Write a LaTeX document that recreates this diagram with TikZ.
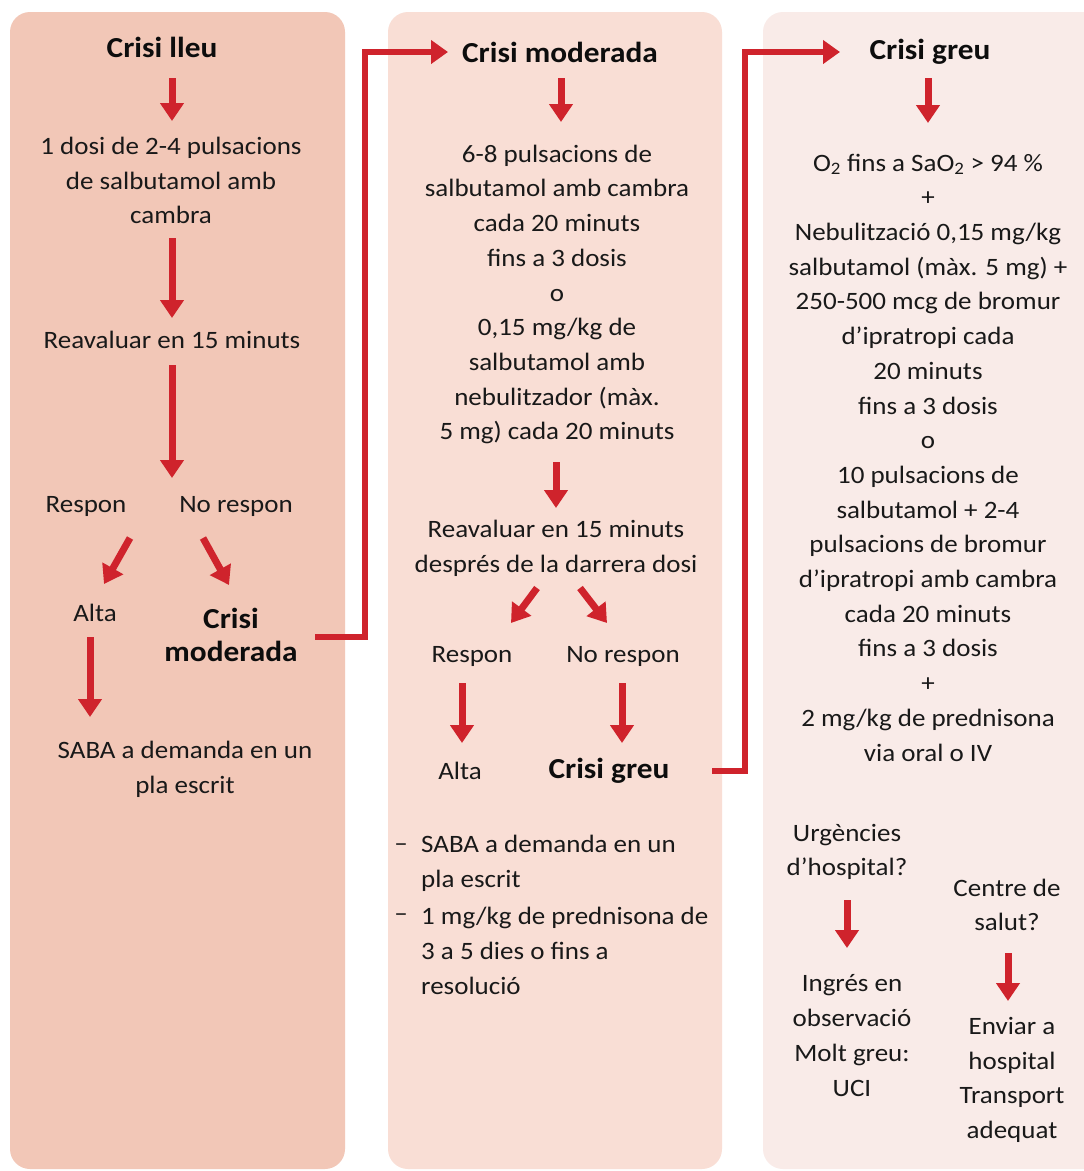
\documentclass[tikz,border=0pt]{standalone}
\usepackage{fontspec}
\setmainfont{Carlito}[FakeStretch=1.08]
\usetikzlibrary{arrows.meta,calc}
\definecolor{pone}{HTML}{F2C7B7}
\definecolor{ptwo}{HTML}{F9DED5}
\definecolor{pthree}{HTML}{F9EBE8}
\definecolor{ared}{HTML}{CF232C}
\tikzset{
  panel/.style={rounded corners=20pt, draw=none},
  txt/.style={align=center, font=\fontsize{25}{34.7}\selectfont, inner sep=0pt, text=black!90},
  ltxt/.style={align=left, font=\fontsize{25}{34.7}\selectfont, inner sep=0pt, text=black!90},
  head/.style={align=center, font=\fontsize{29}{33}\selectfont\bfseries, inner sep=0pt, text=black!95},
  arr/.style={draw=ared, line width=7pt, -{Triangle[width=23pt,length=18pt]}},
  conn/.style={draw=ared, line width=6.5pt, line join=miter, -{Triangle[width=23pt,length=17pt]}},
}
\begin{document}
\begin{tikzpicture}[x=1pt,y=-1pt]
\clip (0,0) rectangle (1084,1171);
\fill[white] (0,0) rectangle (1084,1171);
% panels
\fill[pone, panel] (10,12) rectangle (345,1169);
\fill[ptwo, panel] (388,12) rectangle (722,1169);
\fill[pthree, panel] (763,12) rectangle (1110,1169);

% ---------- panel 1
\node[head] (h1) at (162,47) {Crisi lleu};
\node[txt] (t1) at (171,180.5) {1 dosi de 2-4 pulsacions\\de salbutamol amb\\cambra};
\node[txt] (t2) at (172,340) {Reavaluar en 15 minuts};
\node[txt] (r1) at (86,506) {Respon};
\node[txt] (nr1) at (236,506) {No respon};
\node[txt] (a1) at (95,613) {Alta};
\node[head] (cm1) at (231,634.5) {Crisi\\moderada};
\node[txt] (s1) at (185,769) {SABA a demanda en un\\pla escrit};

\coordinate (p1a) at (172,78);  \coordinate (p1b) at (172,121);
\coordinate (p1c) at (172,238); \coordinate (p1d) at (172,318);
\coordinate (p1e) at (172,365); \coordinate (p1f) at (172,478);
\coordinate (p1g) at (130,538); \coordinate (p1h) at (104,584);
\coordinate (p1i) at (203,538); \coordinate (p1j) at (229,585);
\coordinate (p1k) at (90,637);  \coordinate (p1l) at (90,717);
\draw[arr] (p1a) -- (p1b);
\draw[arr] (p1c) -- (p1d);
\draw[arr] (p1e) -- (p1f);
\draw[arr] (p1g) -- (p1h);
\draw[arr] (p1i) -- (p1j);
\draw[arr] (p1k) -- (p1l);

% ---------- panel 2
\node[head] (h2) at (560,52) {Crisi moderada};
\node[txt] (t3) at (557,294.5) {6-8 pulsacions de\\salbutamol amb cambra\\cada 20 minuts\\fins a 3 dosis\\o\\0,15 mg/kg de\\salbutamol amb\\nebulitzador (màx.\\5 mg) cada 20 minuts};
\node[txt] (t4) at (556,548) {Reavaluar en 15 minuts\\després de la darrera dosi};
\node[txt] (r2) at (472,656) {Respon};
\node[txt] (nr2) at (623,656) {No respon};
\node[txt] (a2) at (460,771) {Alta};
\node[head] (cg2) at (609,771) {Crisi greu};
\node[txt] (d1) at (401,848) {–};
\node[ltxt, anchor=west] (b1) at (421,863.5) {SABA a demanda en un\\pla escrit};
\node[txt] (d2) at (401,918) {–};
\node[ltxt, anchor=west] (b2) at (421,951) {1 mg/kg de prednisona de\\3 a 5 dies o fins a\\resolució};

\coordinate (p2a) at (561,78);  \coordinate (p2b) at (561,122);
\coordinate (p2c) at (556,462); \coordinate (p2d) at (556,508);
\coordinate (p2e) at (537,588); \coordinate (p2f) at (511,623);
\coordinate (p2g) at (580,588); \coordinate (p2h) at (607,623);
\coordinate (p2i) at (462,683); \coordinate (p2j) at (462,743);
\coordinate (p2k) at (622,683); \coordinate (p2l) at (622,743);
\draw[arr] (p2a) -- (p2b);
\draw[arr] (p2c) -- (p2d);
\draw[arr] (p2e) -- (p2f);
\draw[arr] (p2g) -- (p2h);
\draw[arr] (p2i) -- (p2j);
\draw[arr] (p2k) -- (p2l);

% ---------- panel 3
\node[head] (h3) at (930,52) {Crisi greu};
\node[txt] (t5) at (928,457.5) {O\textsubscript{2} fins a SaO\textsubscript{2} > 94 \%\\+\\Nebulització 0,15 mg/kg\\salbutamol (màx. 5 mg) +\\250-500 mcg de bromur\\d’ipratropi cada\\20 minuts\\fins a 3 dosis\\o\\10 pulsacions de\\salbutamol + 2-4\\pulsacions de bromur\\d’ipratropi amb cambra\\cada 20 minuts\\fins a 3 dosis\\+\\2 mg/kg de prednisona\\via oral o IV};
\node[txt] (u3) at (847,852) {Urgències\\d’hospital?};
\node[txt] (i3) at (852,1035.5) {Ingrés en\\observació\\Molt greu:\\UCI};
\node[txt] (c3) at (1007,905) {Centre de\\salut?};
\node[txt] (e3) at (1012,1080) {Enviar a\\hospital\\Transport\\adequat};

\coordinate (p3a) at (928,78);   \coordinate (p3b) at (928,123);
\coordinate (p3c) at (847,900);  \coordinate (p3d) at (847,948);
\coordinate (p3e) at (1008,953); \coordinate (p3f) at (1008,1001);
\draw[arr] (p3a) -- (p3b);
\draw[arr] (p3c) -- (p3d);
\draw[arr] (p3e) -- (p3f);

% ---------- connectors between panels
\coordinate (c1s) at (315,637);
\coordinate (c1e) at (448,52);
\draw[conn] (c1s) -| (365,52) -- (c1e);
\coordinate (c2s) at (712,771);
\coordinate (c2e) at (840,52);
\draw[conn] (c2s) -| (745,52) -- (c2e);
\end{tikzpicture}
\end{document}
